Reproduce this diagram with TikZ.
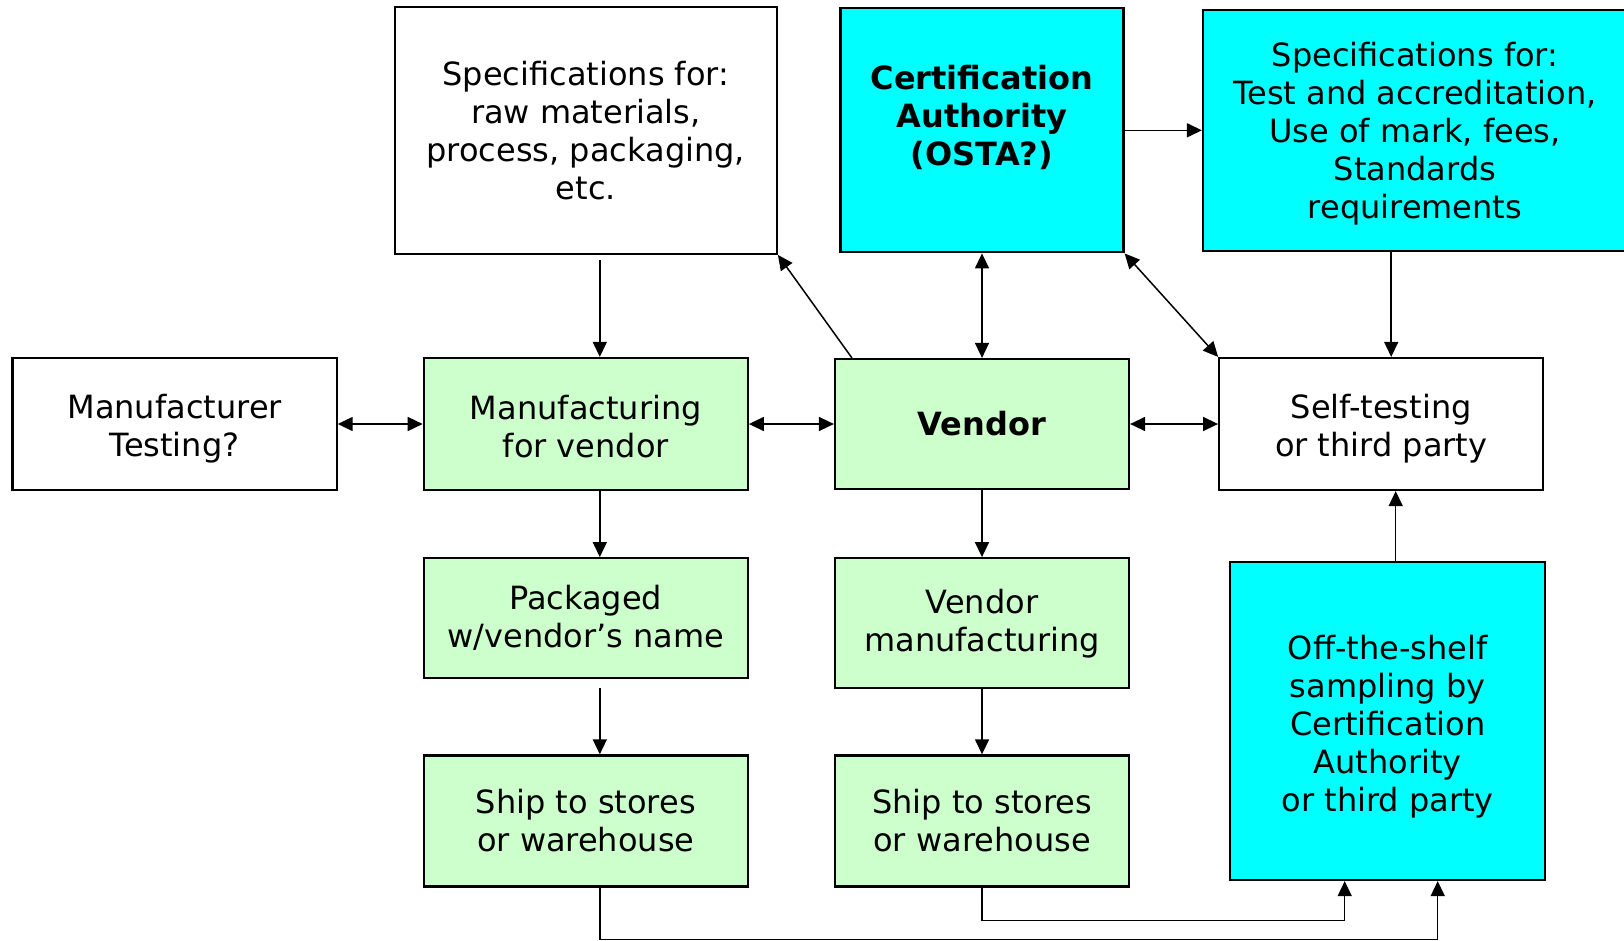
\documentclass[tikz,border=0pt]{standalone}
\usepackage{fontspec}
\setmainfont{DejaVu Sans}
\usetikzlibrary{shapes.geometric, arrows.meta, positioning, calc}
\tikzstyle{spec} = [rectangle, draw=black, line width=2.2pt, fill=white, align=center, font=\fontsize{32}{38}\selectfont]
\tikzstyle{stage} = [spec, fill=colorGreen]
\tikzstyle{authority} = [spec, fill=colorCyan]
\tikzstyle{arrow} = [line width=1.5pt, -{Triangle[length=15pt, width=14pt]}]
\tikzstyle{dblarrow} = [line width=1.5pt, {Triangle[length=15pt, width=14pt]}-{Triangle[length=15pt, width=14pt]}]
\definecolor{colorGreen}{RGB}{204, 255, 204}
\definecolor{colorCyan}{RGB}{0, 255, 255}
\newcommand{\lift}[1]{\rule{0pt}{#1}}

\begin{document}
\begin{tikzpicture}[x=1pt, y=1pt]

		\useasboundingbox (0,0) rectangle (1624,-940);

		\matrix (m) [column sep=56pt, row sep=66pt, nodes={anchor=center}, matrix anchor=vendor.center] at (982,-424)
		{
			% specifications and authority
			& \node (specMfg)[spec, minimum width=382pt, minimum height=247pt]{Specifications for:\\ raw materials,\\ process, packaging,\\ etc.};
			& \node (cert)[authority, minimum width=283pt, minimum height=244pt]{\textbf{Certification}\\ \textbf{Authority}\\ \textbf{(OSTA?)}\\[-8pt]\mbox{}};
			&[32pt] \\[36pt]

			% testing and vendor
			\node (mfrTest)[spec, minimum width=324pt, minimum height=132pt]{\lift{34pt}Manufacturer\\ Testing?};
			& \node (mfgVendor)[stage, minimum width=324pt, minimum height=132pt]{\lift{30pt}Manufacturing\\ for vendor};
			& \node (vendor)[stage, minimum width=294pt, minimum height=130pt]{\textbf{Vendor}};
			&[32pt] \node (selfTest)[spec, minimum width=324pt, minimum height=132pt]{\lift{34pt}Self-testing\\ or third party};
			\\

			& \node (packaged)[stage, anchor=north, minimum width=324pt, minimum height=120pt]{Packaged\\ w/vendor’s name};
			& \node (vendorMfg)[stage, anchor=north, minimum width=294pt, minimum height=130pt]{Vendor\\ manufacturing};
			&[32pt] \\[-1pt]

			% shipping
			& \node (shipA)[stage, minimum width=324pt, minimum height=131pt]{Ship to stores\\ or warehouse};
			& \node (shipB)[stage, minimum width=294pt, minimum height=131pt]{Ship to stores\\ or warehouse};
			&[32pt] \\
		};

		\node(specCert)[authority, xshift=433pt, minimum width=424pt, minimum height=241pt] at (cert) {\lift{31pt}Specifications for:\\ Test and accreditation,\\ Use of mark, fees,\\ Standards\\ requirements};
		\node(offShelf)[authority, xshift=6.5pt, yshift=-297pt, minimum width=315pt, minimum height=318pt] at (selfTest) {\lift{36pt}Off-the-shelf\\ sampling by\\ Certification\\ Authority\\ or third party};

		% turning points
		\coordinate[below=33pt of shipB.south] (turnB);
		\coordinate[below=52pt of shipA.south, xshift=14pt] (turnA);

		% lines and arrows
		\draw[arrow, shorten <=5pt] ([xshift=14pt]specMfg.south) -- ([xshift=14pt]mfgVendor.north);
		\draw[arrow] ([xshift=14pt]mfgVendor.south) -- ([xshift=14pt]packaged.north);
		\draw[arrow, shorten <=9pt] ([xshift=14pt]packaged.south) -- ([xshift=14pt]shipA.north);
		\draw[arrow] (vendor) -- (vendorMfg);
		\draw[arrow] (vendorMfg) -- (shipB);

		\draw[arrow] ([xshift=18pt]vendor.north west) -- (specMfg.south east);
		\draw[dblarrow] (cert) -- (vendor);
		\draw[dblarrow] (cert.south east) -- (selfTest.north west);
		\draw[arrow] (cert.east) -- (specCert.west);
		\draw[arrow] ([xshift=10pt]selfTest.north |- specCert.south) -- ([xshift=10pt]selfTest.north);

		\draw[dblarrow] (mfrTest) -- (mfgVendor);
		\draw[dblarrow] (mfgVendor.east) -- (mfgVendor.east -| vendor.west);
		\draw[dblarrow] (vendor.east) -- (vendor.east -| selfTest.west);
		\draw[arrow] ([xshift=8pt]offShelf.north) -- ([xshift=8pt]offShelf.north |- selfTest.south);

		\draw[arrow] (shipB.south) -- (turnB) -| ([xshift=-43pt]offShelf.south);
		\draw[arrow] ([xshift=14pt]shipA.south) -- (turnA) -| ([xshift=50pt]offShelf.south);

\end{tikzpicture}
\end{document}
